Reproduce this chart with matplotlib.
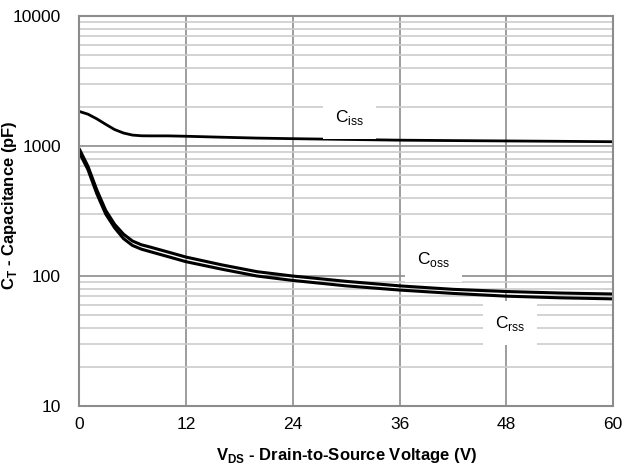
import matplotlib
matplotlib.use("Agg")
import matplotlib.pyplot as plt
from matplotlib.ticker import FixedLocator, NullFormatter

plt.rcParams["font.family"] = ["Liberation Sans", "DejaVu Sans"]

# ─── DATA ─────────────────────────────────────────────────────────────────────
VDS = [0, 1, 2, 3, 4, 5, 6, 7, 8, 10, 12, 16, 20, 24, 30, 36, 42, 48, 54, 60]
CISS = [1850, 1760, 1620, 1470, 1340, 1260, 1215, 1200, 1198, 1198, 1190,
        1170, 1152, 1140, 1125, 1110, 1102, 1095, 1088, 1080]
COSS = [960, 700, 460, 320, 250, 210, 186, 174, 167, 153, 140,
        122, 108, 100, 91, 84, 79, 76, 74, 72.7]
CRSS = [900, 660, 430, 300, 235, 194, 172, 161, 154, 141, 129,
        113, 100, 92.5, 84, 78, 73.5, 70, 68, 66.7]
X_TICKS = [0, 12, 24, 36, 48, 60]
Y_TICKS = [10, 100, 1000, 10000]
LABELS = [(r"C$_{\mathregular{iss}}$", 30.4, 1670),
          (r"C$_{\mathregular{oss}}$", 39.8, 133),
          (r"C$_{\mathregular{rss}}$", 48.4, 43.5)]
# ──────────────────────────────────────────────────────────────────────────────

fig = plt.figure(figsize=(6.27, 4.74), dpi=100)
ax = fig.add_axes([0.126, 0.1435, 0.852, 0.8225])

ax.set_yscale("log")
ax.set_xlim(0, 60)
ax.set_ylim(10, 10000)

ax.set_xticks(X_TICKS)
ax.set_xticklabels([str(t) for t in X_TICKS])
ax.yaxis.set_major_locator(FixedLocator(Y_TICKS))
ax.set_yticklabels([str(t) for t in Y_TICKS])
minor = [m * 10 ** e for e in range(1, 4) for m in range(2, 10)]
ax.yaxis.set_minor_locator(FixedLocator(minor))
ax.yaxis.set_minor_formatter(NullFormatter())

ax.grid(which="minor", axis="y", color="#cccccc", linewidth=1.2)
ax.grid(which="major", axis="y", color="#8c8c8c", linewidth=1.2)
ax.grid(which="major", axis="x", color="#8c8c8c", linewidth=1.2)
ax.set_axisbelow(True)
for s in ax.spines.values():
    s.set_color("#8c8c8c")
    s.set_linewidth(1.5)

ax.tick_params(which="both", length=0, labelsize=12.5, colors="black")
ax.tick_params(axis="y", pad=13)
ax.tick_params(axis="x", pad=8)

ax.plot(VDS, CISS, color="black", linewidth=2.0, solid_capstyle="butt")
ax.plot(VDS, COSS, color="black", linewidth=2.2, solid_capstyle="butt")
ax.plot(VDS, CRSS, color="black", linewidth=2.2, solid_capstyle="butt")

for txt, x, y in LABELS:
    ax.text(x, y, txt, fontsize=12.5, ha="center", va="center", zorder=3,
            bbox=dict(boxstyle="square,pad=0.7", facecolor="white", edgecolor="none"))

ax.set_xlabel(r"V$_{\mathregular{DS}}$ - Drain-to-Source Voltage (V)",
              fontsize=12, fontweight="bold", labelpad=10)
ax.set_ylabel(r"C$_{\mathregular{T}}$ - Capacitance (pF)",
              fontsize=12, fontweight="bold")
ax.yaxis.set_label_coords(-0.112, 0.515)

fig.savefig("out.png", dpi=100)
